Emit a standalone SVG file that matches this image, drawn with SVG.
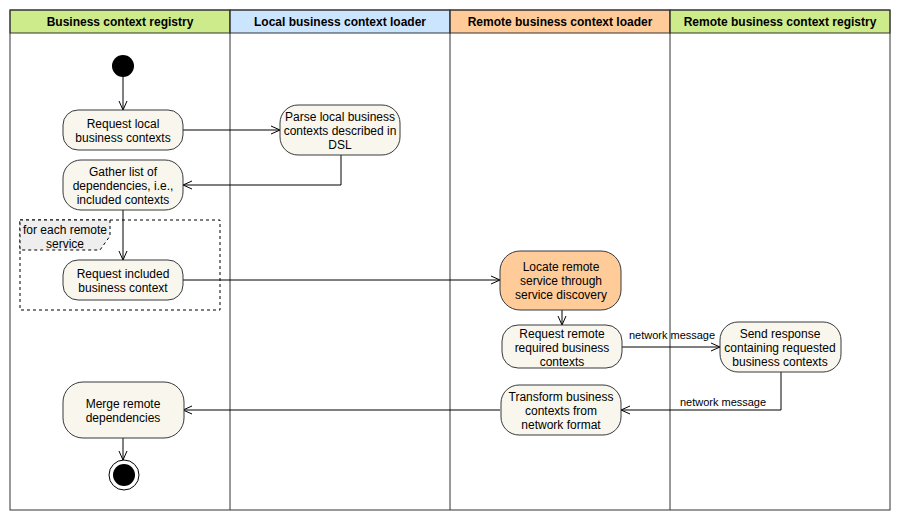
<svg xmlns="http://www.w3.org/2000/svg" width="901" height="521" viewBox="0 0 901 521">
<style>
text{font-family:"Liberation Sans",Arial,sans-serif;font-size:12px;fill:#000}
.hd{font-weight:bold;text-anchor:middle}
.lane{fill:none;stroke:#333;stroke-width:1}
.act{fill:#f9f7ed;stroke:#36393d;stroke-width:1}
.c{text-anchor:middle}
.edge{fill:none;stroke:#000;stroke-width:1;marker-end:url(#arr)}
.lbl{font-size:11px;text-anchor:middle}
</style>
<defs>
<marker id="arr" viewBox="0 0 10 10" refX="10" refY="5" markerWidth="10" markerHeight="10" markerUnits="userSpaceOnUse" orient="auto">
<polyline points="1,1 10,5 1,9" fill="none" stroke="#000" stroke-width="1"/>
</marker>
</defs>
<rect width="901" height="521" fill="#fff"/>
<g id="lanes">
<rect x="10" y="10" width="220" height="23" fill="#cdeb8b" stroke="#333"/>
<rect x="230" y="10" width="220" height="23" fill="#cce5ff" stroke="#333"/>
<rect x="450" y="10" width="220" height="23" fill="#ffcc99" stroke="#333"/>
<rect x="670" y="10" width="220" height="23" fill="#cdeb8b" stroke="#333"/>
<rect class="lane" x="10" y="10" width="880" height="500"/>
<line class="lane" x1="230" y1="10" x2="230" y2="510"/>
<line class="lane" x1="450" y1="10" x2="450" y2="510"/>
<line class="lane" x1="670" y1="10" x2="670" y2="510"/>
<text class="hd" x="120" y="26">Business context registry</text>
<text class="hd" x="340" y="26">Local business context loader</text>
<text class="hd" x="560" y="26">Remote business context loader</text>
<text class="hd" x="780" y="26">Remote business context registry</text>
</g>
<g id="loop">
<rect x="20" y="220" width="200" height="90" fill="none" stroke="#000" stroke-dasharray="3,3"/>
<polygon points="20,220 110,220 110,236 100,250 20,250" fill="#eeeeee" stroke="#000" stroke-dasharray="3,3"/>
<text class="c" x="65" y="234">for each remote</text>
<text class="c" x="65" y="248">service</text>
</g>
<g id="connectors">
<path class="edge" d="M123,77 V110"/>
<path class="edge" d="M183,130 H280"/>
<path class="edge" d="M341,155 V185 H183"/>
<path class="edge" d="M123,210 V260"/>
<path class="edge" d="M183,280 H500"/>
<path class="edge" d="M562,310 V325"/>
<path class="edge" d="M622,347 H720"/>
<text class="lbl" x="672" y="339">network message</text>
<path class="edge" d="M781,372 V410 H621"/>
<text class="lbl" x="723" y="406">network message</text>
<path class="edge" d="M500,410 H183"/>
<path class="edge" d="M123,438 V460"/>
</g>
<g id="start"><circle cx="123" cy="66" r="11" fill="#000"/></g>
<g id="reqLocal">
<rect class="act" x="63" y="110" width="120" height="40" rx="15"/>
<text class="c" x="123" y="128">Request local</text>
<text class="c" x="123" y="142">business contexts</text>
</g>
<g id="parseLocal">
<rect class="act" x="280" y="105" width="120" height="50" rx="18"/>
<text class="c" x="340" y="121">Parse local business</text>
<text class="c" x="340" y="135">contexts described in</text>
<text class="c" x="340" y="149">DSL</text>
</g>
<g id="gather">
<rect class="act" x="63" y="160" width="120" height="50" rx="18"/>
<text class="c" x="123" y="176">Gather list of</text>
<text class="c" x="123" y="190">dependencies, i.e.,</text>
<text class="c" x="123" y="204">included contexts</text>
</g>
<g id="reqIncluded">
<rect class="act" x="63" y="260" width="120" height="40" rx="15"/>
<text class="c" x="123" y="278">Request included</text>
<text class="c" x="123" y="292">business context</text>
</g>
<g id="locate">
<rect x="500" y="251" width="121" height="59" rx="20" fill="#ffcc99" stroke="#36393d"/>
<text class="c" x="561" y="271">Locate remote</text>
<text class="c" x="561" y="285">service through</text>
<text class="c" x="561" y="299">service discovery</text>
</g>
<g id="reqRemote">
<rect class="act" x="502" y="325" width="120" height="43" rx="16"/>
<text class="c" x="562" y="338">Request remote</text>
<text class="c" x="562" y="352">required business</text>
<text class="c" x="562" y="366">contexts</text>
</g>
<g id="sendResp">
<rect class="act" x="720" y="322" width="121" height="50" rx="18"/>
<text class="c" x="780" y="338">Send response</text>
<text class="c" x="780" y="352">containing requested</text>
<text class="c" x="780" y="366">business contexts</text>
</g>
<g id="transform">
<rect class="act" x="501" y="385" width="120" height="50" rx="18"/>
<text class="c" x="561" y="401">Transform business</text>
<text class="c" x="561" y="415">contexts from</text>
<text class="c" x="561" y="429">network format</text>
</g>
<g id="merge">
<rect class="act" x="63" y="382" width="121" height="56" rx="20"/>
<text class="c" x="123" y="408">Merge remote</text>
<text class="c" x="123" y="422">dependencies</text>
</g>
<g id="end">
<circle cx="124" cy="475" r="15" fill="#fff" stroke="#000"/>
<circle cx="124" cy="475" r="11" fill="#000"/>
</g>
</svg>
